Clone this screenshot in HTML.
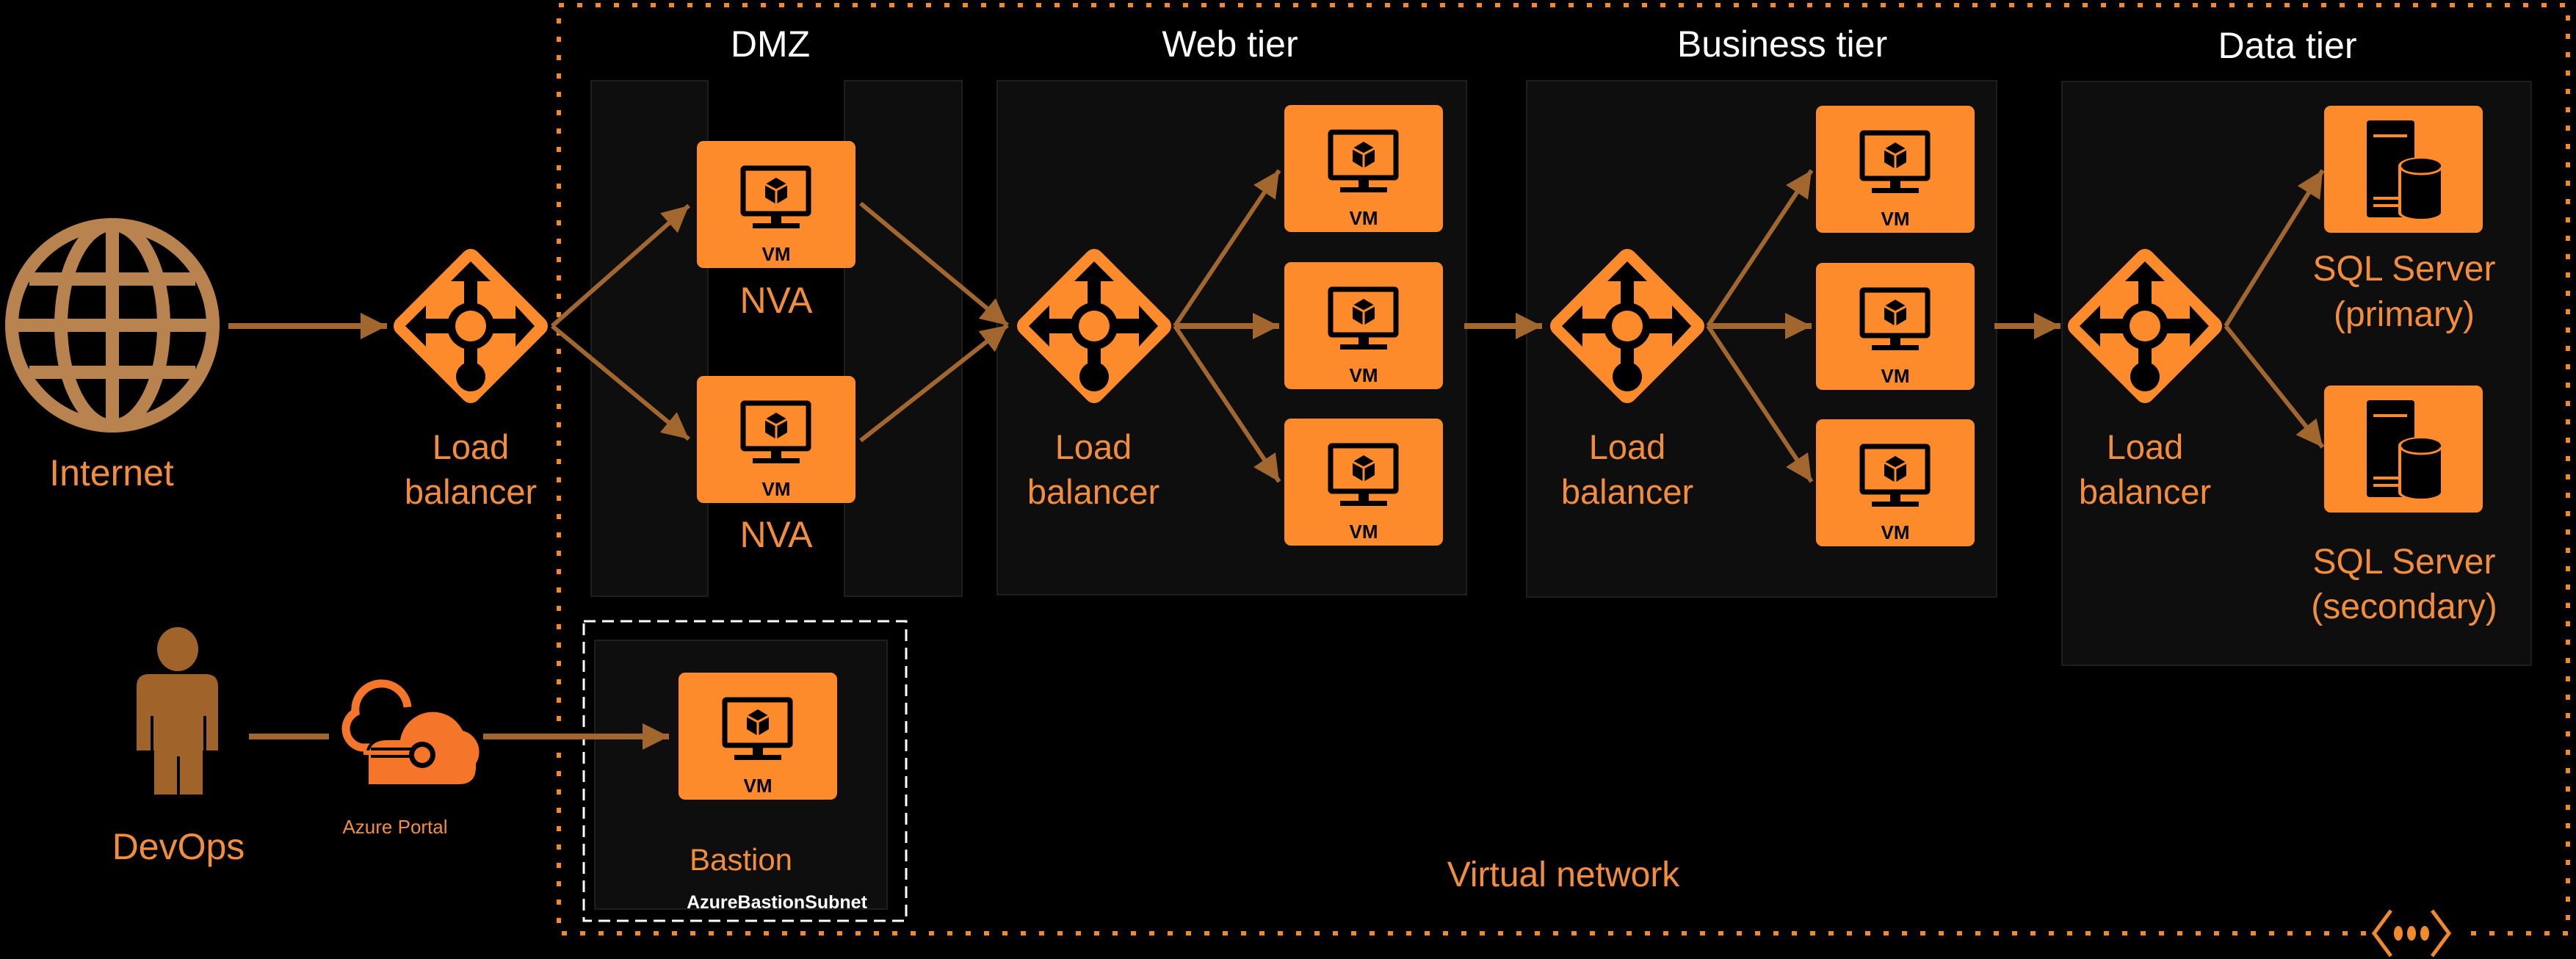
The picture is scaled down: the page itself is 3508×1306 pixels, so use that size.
<!DOCTYPE html>
<html><head><meta charset="utf-8"><style>
html,body{margin:0;padding:0;background:#000;}
svg{display:block;}
text{font-family:"Liberation Sans",sans-serif;}
</style></head><body>
<svg width="3508" height="1306" viewBox="0 0 3508 1306" xmlns="http://www.w3.org/2000/svg">
<defs>
<marker id="ah" markerUnits="userSpaceOnUse" markerWidth="38" markerHeight="38" refX="36" refY="18" orient="auto">
<path d="M0,0 L36,18 L0,36 Z" fill="#a2672f"/>
</marker>
<g id="vm">
<rect width="216" height="173" rx="9" fill="#fd8a2b"/>
<rect x="63" y="37" width="89" height="62" rx="2" fill="none" stroke="#000" stroke-width="7"/>
<rect x="101" y="99" width="14" height="14" fill="#000"/>
<rect x="76" y="112" width="64" height="7" fill="#000"/>
<polygon points="108,50 123,59 123,77 108,86 93,77 93,59" fill="#000"/>
<polyline points="93,59 108,67 123,59" fill="none" stroke="#fd8a2b" stroke-width="3"/>
<line x1="108" y1="67" x2="108" y2="86" stroke="#fd8a2b" stroke-width="3"/>
<text x="108" y="163" font-size="26" font-weight="bold" fill="#000" text-anchor="middle">VM</text>
</g>
<g id="lb">
<path d="M0,-92 L92,0 L0,92 L-92,0 Z" fill="#fd8a2b" stroke="#fd8a2b" stroke-width="26" stroke-linejoin="round"/>
<rect x="-64" y="-10" width="128" height="20" fill="#000"/>
<polygon points="-89,0 -61,-28 -61,28" fill="#000"/>
<polygon points="87,0 61,-28 61,28" fill="#000"/>
<polygon points="0,-88 -27,-61 27,-61" fill="#000"/>
<rect x="-9" y="-64" width="18" height="64" fill="#000"/>
<rect x="-9" y="0" width="18" height="70" fill="#000"/>
<circle cx="0" cy="0" r="32" fill="#000"/>
<circle cx="0" cy="0" r="21" fill="#fd8a2b"/>
<circle cx="0" cy="69" r="20" fill="#000"/>
</g>
<g id="sql">
<rect width="216" height="173" rx="9" fill="#fd8a2b"/>
<rect x="58" y="20" width="65" height="132" rx="4" fill="#000"/>
<rect x="67" y="39" width="46" height="4" fill="#fd8a2b"/>
<rect x="67" y="124" width="37" height="4" fill="#fd8a2b"/>
<rect x="67" y="134" width="37" height="4" fill="#fd8a2b"/>
<path d="M101,82 A31,12 0 0 1 163,82 V146 A31,10 0 0 1 101,146 Z" fill="#fd8a2b"/>
<path d="M105,82 A27,10 0 0 1 159,82 V145 A27,9 0 0 1 105,145 Z" fill="#000"/>
<path d="M105,84 A27,9 0 0 0 159,84" fill="none" stroke="#fd8a2b" stroke-width="3"/>
</g>
</defs>

<rect width="3508" height="1306" fill="#000"/>

<!-- panels -->
<g fill="#0e0e0e" stroke="#1e1e1e" stroke-width="2">
<rect x="805" y="110" width="159" height="702"/>
<rect x="1150" y="110" width="160" height="702"/>
<rect x="1358" y="110" width="639" height="700"/>
<rect x="2079" y="110" width="640" height="703"/>
<rect x="2808" y="111" width="639" height="795"/>
<rect x="810" y="872" width="398" height="366"/>
</g>

<!-- vnet border -->
<rect x="761" y="7" width="2736" height="1264" fill="none" stroke="#f08a2c" stroke-width="6" stroke-dasharray="7 18"/>
<!-- bastion dashed box -->
<rect x="795" y="846" width="439" height="408" fill="none" stroke="#ffffff" stroke-width="3" stroke-dasharray="16 9"/>

<!-- vnet icon -->
<rect x="3222" y="1250" width="126" height="42" fill="#000"/>
<polyline points="3256,1240 3233,1271 3256,1302" fill="none" stroke="#f08a2c" stroke-width="5"/>
<polyline points="3312,1240 3335,1271 3312,1302" fill="none" stroke="#f08a2c" stroke-width="5"/>
<ellipse cx="3266" cy="1271" rx="6" ry="10" fill="#f08a2c"/>
<ellipse cx="3284" cy="1271" rx="6" ry="10" fill="#f08a2c"/>
<ellipse cx="3302" cy="1271" rx="6" ry="10" fill="#f08a2c"/>

<!-- tier titles -->
<g fill="#ffffff" font-size="50" text-anchor="middle">
<text x="1049" y="77">DMZ</text>
<text x="1675" y="77">Web tier</text>
<text x="2427" y="77">Business tier</text>
<text x="3115" y="79">Data tier</text>
</g>

<!-- globe -->
<g fill="none" stroke="#b9834f" stroke-width="18">
<circle cx="153" cy="443" r="137"/>
<ellipse cx="153" cy="443" rx="70" ry="137"/>
<line x1="153" y1="306" x2="153" y2="580"/>
<line x1="16" y1="443" x2="290" y2="443"/>
<line x1="40" y1="380" x2="266" y2="380"/>
<line x1="40" y1="507" x2="266" y2="507"/>
</g>

<!-- arrows -->
<g stroke="#a2672f" stroke-width="8" fill="none" marker-end="url(#ah)">
<line x1="311" y1="444" x2="527" y2="444"/>
<line x1="752" y1="444" x2="938" y2="280" stroke-width="6"/>
<line x1="752" y1="444" x2="938" y2="598" stroke-width="6"/>
<line x1="1172" y1="277" x2="1372" y2="443" stroke-width="6"/>
<line x1="1172" y1="600" x2="1372" y2="443" stroke-width="6"/>
<line x1="1600" y1="444" x2="1742" y2="232" stroke-width="6"/>
<line x1="1600" y1="444" x2="1742" y2="444"/>
<line x1="1600" y1="444" x2="1742" y2="656" stroke-width="6"/>
<line x1="1994" y1="444" x2="2100" y2="444"/>
<line x1="2326" y1="444" x2="2467" y2="232" stroke-width="6"/>
<line x1="2326" y1="444" x2="2467" y2="444"/>
<line x1="2326" y1="444" x2="2467" y2="656" stroke-width="6"/>
<line x1="2716" y1="444" x2="2806" y2="444"/>
<line x1="3031" y1="444" x2="3163" y2="232" stroke-width="6"/>
<line x1="3031" y1="444" x2="3163" y2="609" stroke-width="6"/>
<line x1="658" y1="1003" x2="911" y2="1003"/>
</g>
<line x1="339" y1="1003" x2="448" y2="1003" stroke="#a2672f" stroke-width="8"/>

<!-- load balancers -->
<use href="#lb" x="641" y="444"/>
<use href="#lb" x="1490" y="444"/>
<use href="#lb" x="2216" y="444"/>
<use href="#lb" x="2921" y="444"/>

<!-- VMs -->
<use href="#vm" x="949" y="192"/>
<use href="#vm" x="949" y="512"/>
<use href="#vm" x="1749" y="143"/>
<use href="#vm" x="1749" y="357"/>
<use href="#vm" x="1749" y="570"/>
<use href="#vm" x="2473" y="144"/>
<use href="#vm" x="2473" y="358"/>
<use href="#vm" x="2473" y="571"/>
<use href="#vm" x="924" y="916"/>
<use href="#sql" x="3165" y="144"/>
<use href="#sql" x="3165" y="525"/>

<!-- person -->
<g fill="#a0642a">
<ellipse cx="242" cy="884" rx="28" ry="30"/>
<path d="M186,935 Q186,918 203,918 L280,918 Q297,918 297,935 L297,1022 L276,1022 L276,1082 L210,1082 L210,1022 L186,1022 Z"/>
</g>
<g stroke="#000" stroke-width="4">
<line x1="207" y1="975" x2="207" y2="1024"/>
<line x1="279" y1="975" x2="279" y2="1024"/>
<line x1="243" y1="1030" x2="243" y2="1084"/>
</g>

<!-- cloud (Azure portal) -->
<g>
<path d="M560,1018 H492 A26,26 0 0 1 484,970 A34,34 0 0 1 555,963" fill="none" stroke="#f5762a" stroke-width="11"/>
<path d="M502,1068 V1030 Q502,1008 528,1008 L545,1008 A45,45 0 0 1 630,995 A30,30 0 0 1 648,1040 L648,1045 Q648,1068 625,1068 Z" fill="#f5762a" stroke="#000" stroke-width="8"/>
<path d="M502,1068 V1030 Q502,1008 528,1008 L545,1008 A45,45 0 0 1 630,995 A30,30 0 0 1 648,1040 L648,1045 Q648,1068 625,1068 Z" fill="#f5762a"/>
<line x1="505" y1="1025" x2="570" y2="1025" stroke="#000" stroke-width="14"/>
<line x1="495" y1="1025" x2="570" y2="1025" stroke="#f5762a" stroke-width="6"/>
<circle cx="575" cy="1028" r="18" fill="#000"/>
<circle cx="575" cy="1028" r="11" fill="#f5762a"/>
</g>

<!-- labels -->
<g fill="#f28d3c" text-anchor="middle">
<text x="152" y="661" font-size="50">Internet</text>
<text x="641" y="625" font-size="47">Load</text>
<text x="641" y="686" font-size="47">balancer</text>
<text x="1057" y="426" font-size="50">NVA</text>
<text x="1057" y="745" font-size="50">NVA</text>
<text x="1489" y="625" font-size="47">Load</text>
<text x="1489" y="686" font-size="47">balancer</text>
<text x="2216" y="625" font-size="47">Load</text>
<text x="2216" y="686" font-size="47">balancer</text>
<text x="2921" y="625" font-size="47">Load</text>
<text x="2921" y="686" font-size="47">balancer</text>
<text x="3274" y="382" font-size="48">SQL Server</text>
<text x="3274" y="444" font-size="48">(primary)</text>
<text x="3274" y="781" font-size="48">SQL Server</text>
<text x="3274" y="842" font-size="48">(secondary)</text>
<text x="243" y="1170" font-size="50">DevOps</text>
<text x="538" y="1135" font-size="26">Azure Portal</text>
<text x="1009" y="1185" font-size="42">Bastion</text>
<text x="2129" y="1207" font-size="48">Virtual network</text>
</g>
<text x="1058" y="1237" font-size="25" font-weight="bold" fill="#ffffff" text-anchor="middle">AzureBastionSubnet</text>
</svg>
</body></html>
